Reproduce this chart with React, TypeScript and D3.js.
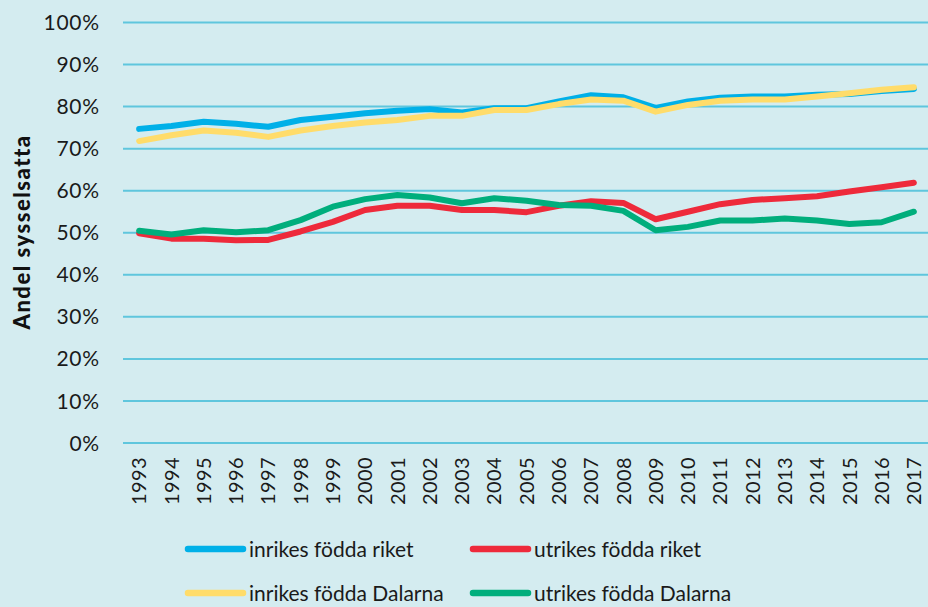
import React from "react";
import * as d3 from "d3";

const years = [
  "1993","1994","1995","1996","1997","1998","1999","2000","2001","2002","2003","2004","2005",
  "2006","2007","2008","2009","2010","2011","2012","2013","2014","2015","2016","2017",
];
const inrikesRiket = [74.7,75.4,76.4,75.9,75.2,76.8,77.6,78.4,79.0,79.4,78.6,79.6,79.6,81.2,82.7,82.2,79.7,81.2,82.1,82.4,82.4,82.8,83.0,83.7,84.2];
const inrikesDalarna = [71.8,73.2,74.3,73.8,72.8,74.3,75.4,76.2,76.8,77.8,77.8,79.2,79.2,80.6,81.7,81.4,78.8,80.4,81.4,81.7,81.7,82.4,83.2,84.0,84.6];
const utrikesRiket = [49.9,48.6,48.6,48.2,48.3,50.3,52.6,55.4,56.4,56.4,55.4,55.4,54.9,56.4,57.5,57.1,53.2,55.0,56.8,57.8,58.2,58.7,59.8,60.8,61.9];
const utrikesDalarna = [50.5,49.6,50.6,50.1,50.6,53.0,56.2,58.0,59.0,58.4,57.0,58.2,57.6,56.6,56.4,55.2,50.6,51.4,52.9,52.9,53.4,52.9,52.1,52.5,55.0];
const yTicks = [0,10,20,30,40,50,60,70,80,90,100];
const seriesNames = ["inrikes födda riket","utrikes födda riket","inrikes födda Dalarna","utrikes födda Dalarna"];
const seriesColors = ["#00b0e8","#ee2a3b","#ffdc6a","#00ae7c"];

const W = 928, H = 607;
const FONT = "Lato, 'DejaVu Sans', sans-serif";

export default function App() {
  const x = d3.scaleBand<string>().domain(years).range([123, 930]).padding(0);
  const y = d3.scaleLinear().domain([0, 100]).range([443, 22.5]);
  const line = d3.line<number>()
    .x((_, i) => (x(years[i]) as number) + x.bandwidth() / 2)
    .y((d) => y(d));
  const drawOrder = [
    { data: inrikesRiket, color: seriesColors[0] },
    { data: inrikesDalarna, color: seriesColors[2] },
    { data: utrikesRiket, color: seriesColors[1] },
    { data: utrikesDalarna, color: seriesColors[3] },
  ];
  const legend = [
    { name: seriesNames[0], color: seriesColors[0], lx: 188, ly: 549 },
    { name: seriesNames[1], color: seriesColors[1], lx: 473, ly: 549 },
    { name: seriesNames[2], color: seriesColors[2], lx: 188, ly: 593 },
    { name: seriesNames[3], color: seriesColors[3], lx: 473, ly: 593 },
  ];
  return (
    <svg width={W} height={H} style={{ position: "absolute", left: 0, top: 0 }} fontFamily={FONT}>
      <rect x={0} y={0} width={W} height={H} fill="#d4ecf0" />
      {yTicks.map((t) => (
        <g key={t}>
          <line x1={123} x2={W} y1={y(t)} y2={y(t)} stroke="#5fc6dd" strokeWidth={2} />
          <text x={100} y={y(t)} dy="0.36em" textAnchor="end" fontSize={21} letterSpacing={0.8} fill="#1a1a1a">{t}%</text>
        </g>
      ))}
      {years.map((yr) => {
        const cx = (x(yr) as number) + x.bandwidth() / 2;
        return (
          <text key={yr} transform={`translate(${cx},457) rotate(-90)`} textAnchor="end" dy="0.36em" fontSize={20} letterSpacing={0.4} fill="#1a1a1a">{yr}</text>
        );
      })}
      <text transform="translate(22,232) rotate(-90)" textAnchor="middle" dy="0.36em" fontSize={22} fontWeight={900} letterSpacing={1.5} fill="#111">Andel sysselsatta</text>
      {drawOrder.map((s, i) => (
        <path key={i} d={line(s.data) as string} fill="none" stroke={s.color} strokeWidth={6} strokeLinejoin="round" strokeLinecap="round" />
      ))}
      {legend.map((l) => (
        <g key={l.name}>
          <line x1={l.lx} x2={l.lx + 55} y1={l.ly} y2={l.ly} stroke={l.color} strokeWidth={6.5} strokeLinecap="round" />
          <text x={l.lx + 61} y={l.ly} dy="0.36em" fontSize={21} fill="#1a1a1a">{l.name}</text>
        </g>
      ))}
    </svg>
  );
}
